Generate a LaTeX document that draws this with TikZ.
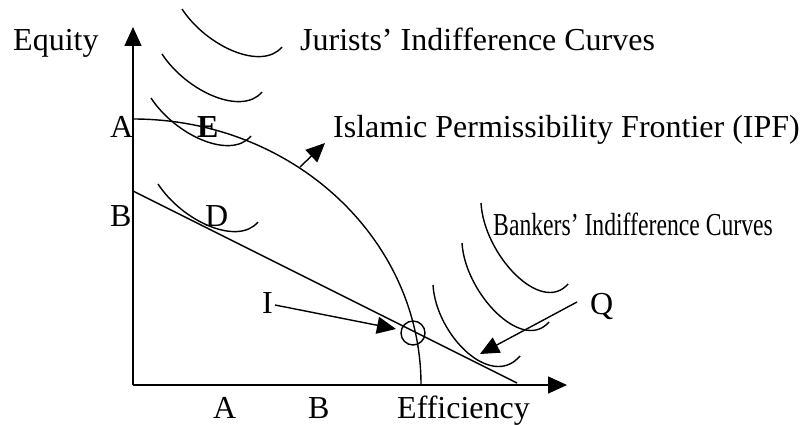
\documentclass[tikz,border=0pt]{standalone}
\usepackage{fontspec}
\setmainfont{Liberation Serif}
\newfontfamily\narrowfont[FakeStretch=0.74]{Liberation Serif}
\usetikzlibrary{arrows.meta}
\begin{document}
\begin{tikzpicture}[x=1pt,y=-1pt,
  lbl/.style={inner sep=0pt, anchor=base west, font=\fontsize{32}{38}\selectfont},
  smalllbl/.style={inner sep=0pt, anchor=base west, font=\narrowfont\fontsize{32}{38}\selectfont},
  curve/.style={line width=1.4pt},
  axis/.style={line width=1.6pt, -{Triangle[length=19pt,width=17pt]}},
  pointer/.style={line width=1.4pt, -{Triangle[length=19pt,width=17pt]}}]
\useasboundingbox (0,0) rectangle (802,425);
% axes
\coordinate (O) at (133,385);
\coordinate (Ytip) at (133,27);
\coordinate (Xtip) at (567,385);
\draw[axis] (O) -- (Ytip);
\draw[axis] (O) -- (Xtip);
% IPF
\coordinate (IPFa) at (133,119);
\draw[curve] (IPFa) arc[start angle=-90, end angle=0, x radius=288, y radius=266];
% budget line
\coordinate (Lb) at (133,191);
\coordinate (Le) at (517,383);
\draw[curve] (Lb) -- (Le);
% jurists' curves
\draw[curve] (182,9) .. controls (207,47) and (262,71) .. (282,47);
\draw[curve] (162,54) .. controls (187,92) and (242,116) .. (262,92);
\draw[curve] (151,98) .. controls (176,136) and (231,160) .. (251,136);
\draw[curve] (158,184) .. controls (183,222) and (238,246) .. (258,222);
% bankers' curves
\draw[curve] (481,203) .. controls (484,255) and (541,315) .. (568,284);
\draw[curve] (462,243) .. controls (465,293) and (522,353) .. (549,322);
\draw[curve] (433,285) .. controls (436,335) and (491,390) .. (520,356);
% circle at intersection
\node[draw, circle, line width=1.4pt, minimum size=24pt, inner sep=0pt] (C) at (413,333) {};
% labels
\node[lbl] (equity) at (13,51) {Equity};
\node[lbl] (jur) at (300,51) {Jurists’ Indifference Curves};
\node[lbl] (Ay) at (110,137) {A};
\node[lbl] (E) at (197,137) {\bfseries E};
\node[lbl] (ipf) at (333,137) {Islamic Permissibility Frontier (IPF)};
\node[lbl] (By) at (110,226) {B};
\node[lbl] (D) at (205,226) {D};
\node[smalllbl] (bank) at (493,235) {Bankers’ Indifference Curves};
\node[lbl] (I) at (262,313) {I};
\node[lbl] (Q) at (590,314) {Q};
\node[lbl] (Ax) at (213,418) {A};
\node[lbl] (Bx) at (308,418) {B};
\node[lbl] (eff) at (397,418) {Efficiency};
% pointers
\coordinate (ipfp) at (300,167);
\coordinate (ipft) at (325,143);
\draw[pointer] (ipfp) -- (ipft);
\coordinate (Is) at (275,305);
\coordinate (It) at (396,329);
\draw[pointer] (Is) -- (It);
\coordinate (Qs) at (577,302);
\coordinate (Qt) at (480,354);
\draw[pointer] (Qs) -- (Qt);
\end{tikzpicture}
\end{document}
